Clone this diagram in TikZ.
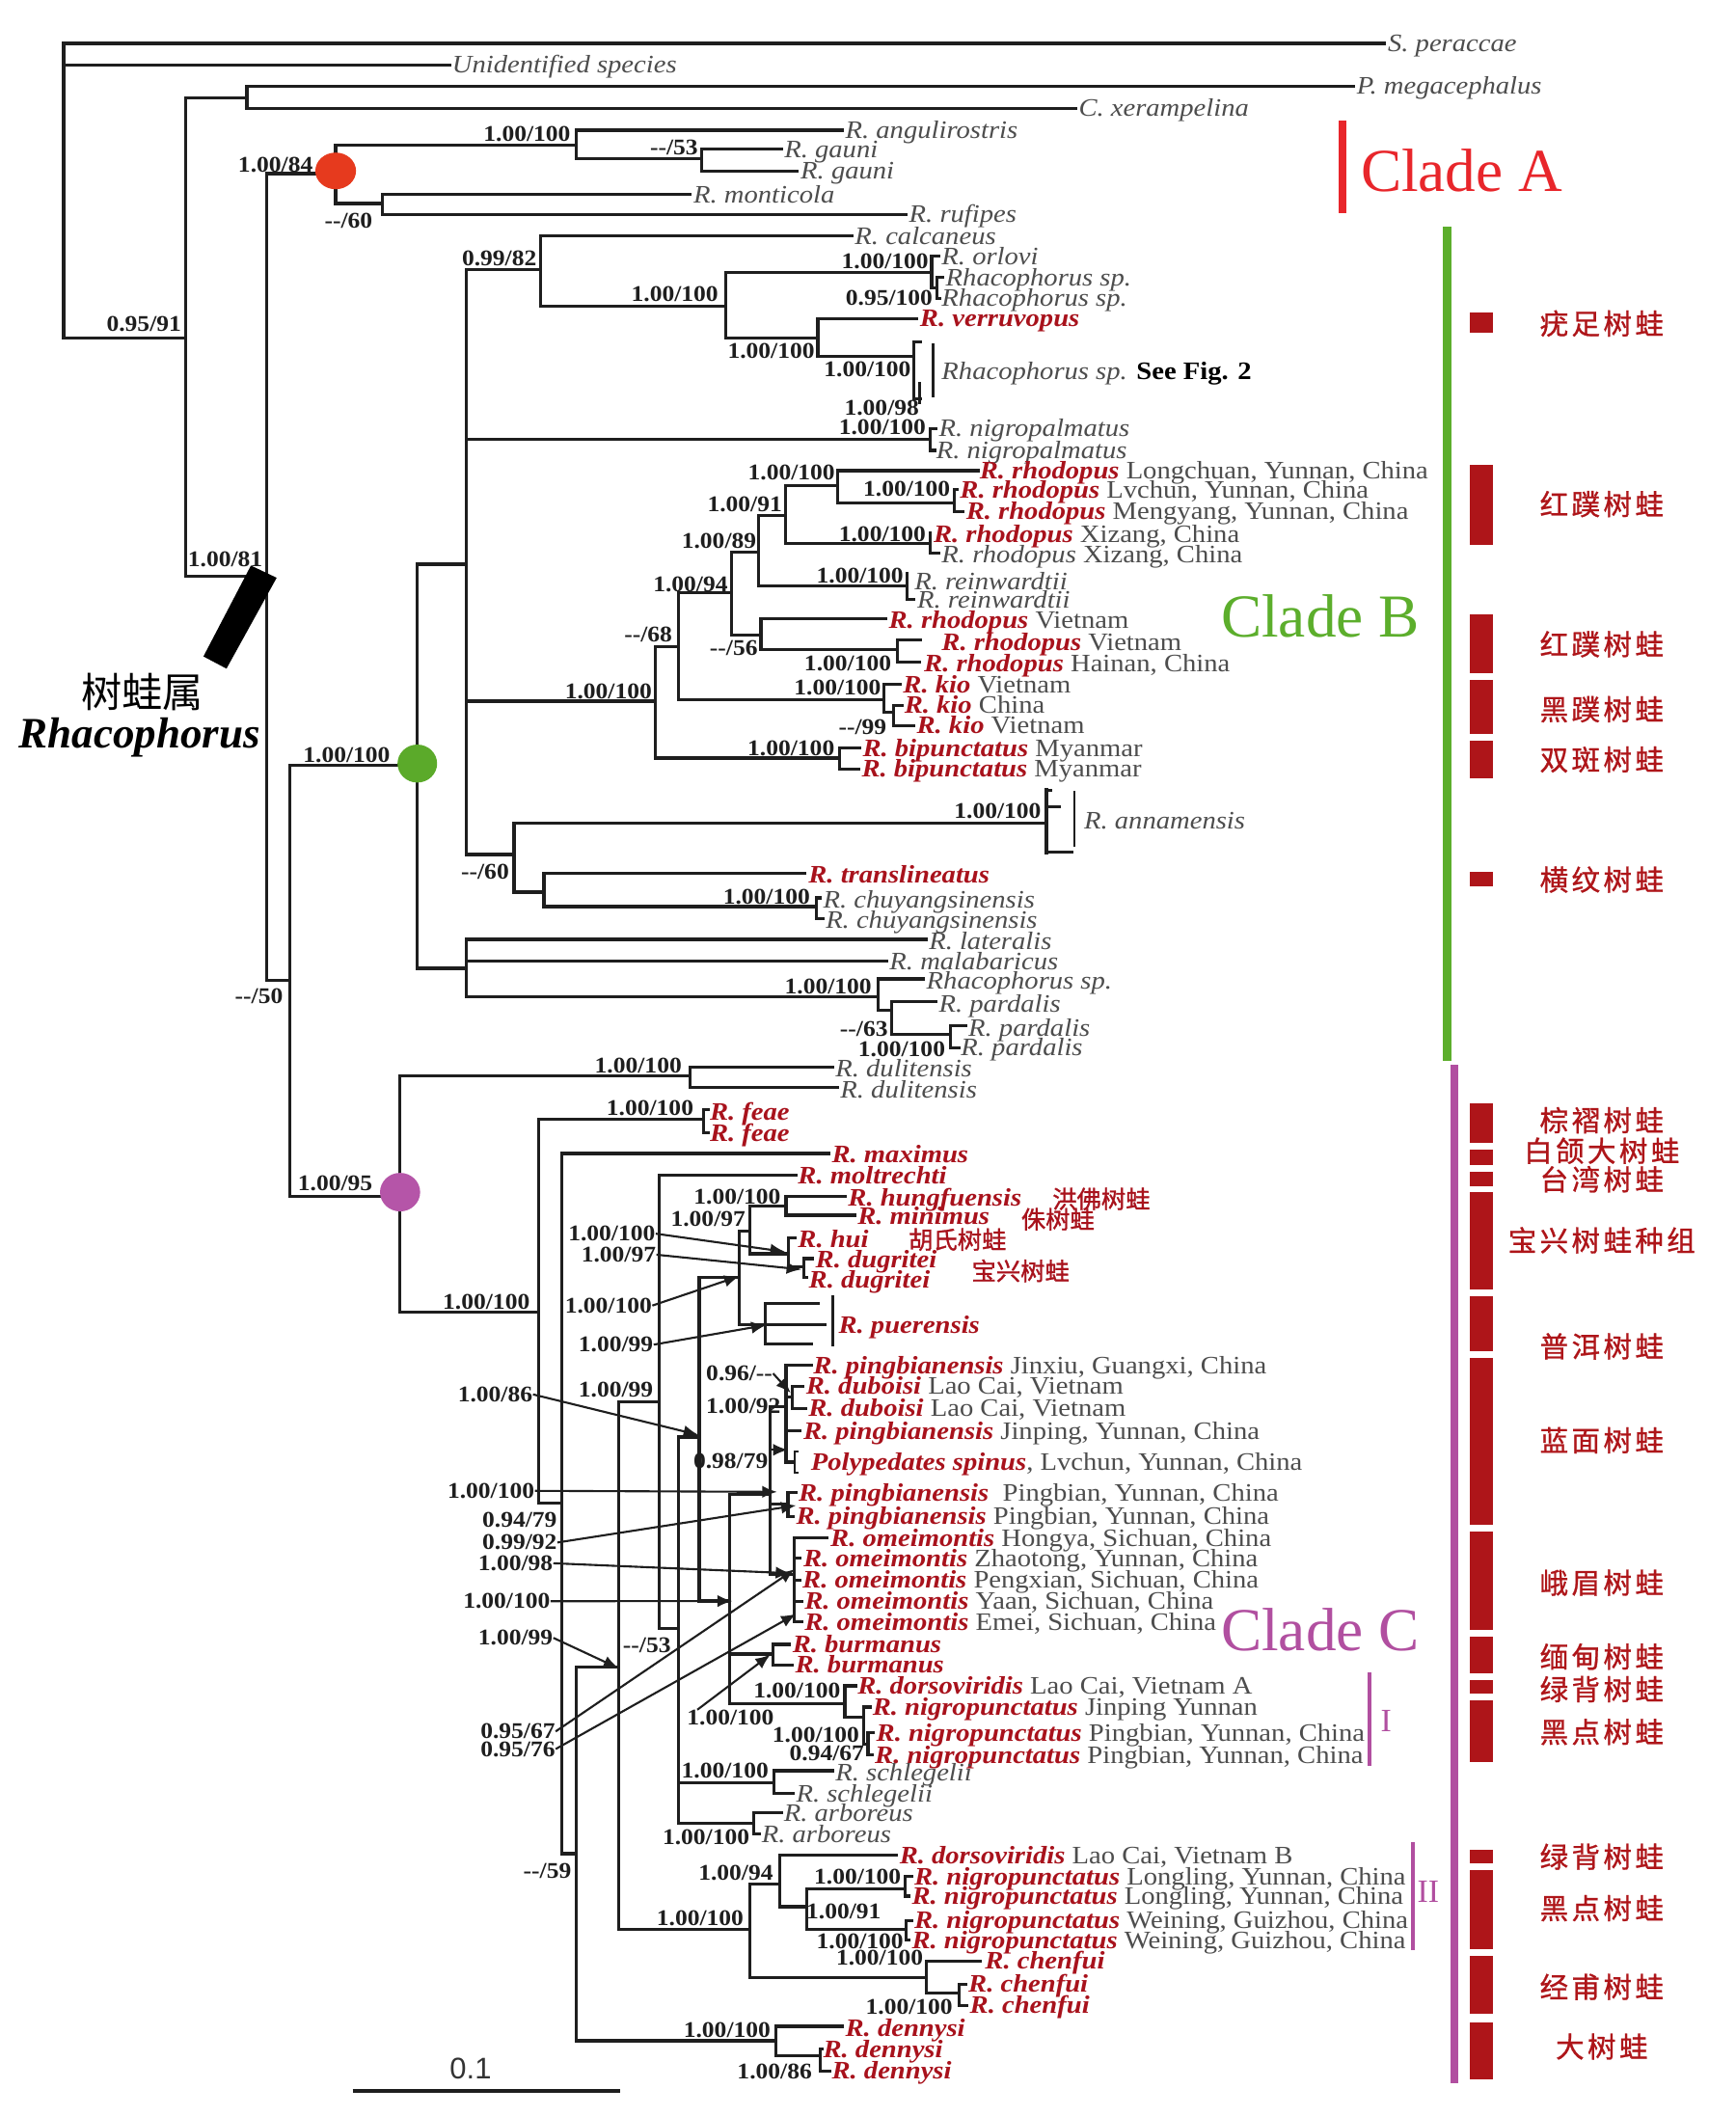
\documentclass[tikz,border=0pt]{standalone}
\usepackage{fontspec}
\setmainfont{Liberation Serif}
\newfontfamily\lab[FakeStretch=1.1]{Liberation Serif}
\newfontfamily\cjk{Noto Sans CJK SC}
\newfontfamily\cjkb[FakeBold=1.2]{Noto Sans CJK SC}
\newfontfamily\cjkr[FakeBold=0.9]{Noto Sans CJK SC}
\newfontfamily\sansf{Liberation Sans}
\usetikzlibrary{arrows.meta}
\definecolor{linec}{HTML}{1E1E1E}
\definecolor{labgray}{HTML}{4D4D4D}
\definecolor{labred}{HTML}{A8121C}
\definecolor{barred}{HTML}{AE1519}
\definecolor{cladeA}{HTML}{E8262B}
\definecolor{cladeB}{HTML}{5CAE2C}
\definecolor{cladeC}{HTML}{B14FA0}
\definecolor{dotA}{HTML}{E63A1E}
\definecolor{dotB}{HTML}{5BAA2A}
\definecolor{dotC}{HTML}{B555A8}
\newcommand{\gi}[1]{{\itshape\color{labgray}#1}}
\newcommand{\rb}[1]{{\bfseries\itshape\color{labred}#1}}
\newcommand{\gr}[1]{{\color{labgray}#1}}
\newcommand{\ks}{\kern1.2pt}
\begin{document}
\begin{tikzpicture}[x=0.5pt,y=-0.5pt,
  br/.style={line width=1.15pt, draw=linec, line cap=rect},
  thin/.style={line width=0.8pt, draw=linec},
  arr/.style={line width=0.75pt, draw=linec, -{Latex[length=5.5pt,width=4.5pt]}},
  tx/.style={anchor=base west, inner sep=0pt, yshift=-3pt, font=\lab\fontsize{9.25}{10}\selectfont},
  bs/.style={anchor=base east, inner sep=0pt, font=\lab\bfseries\fontsize{8.25}{9}\selectfont, text=linec},
  rc/.style={inner sep=0pt, font=\cjkr\fontsize{10.5}{12}\selectfont, text=barred},
  ic/.style={inner sep=0pt, font=\cjkb\fontsize{9}{10}\selectfont, text=labred},
  clade/.style={anchor=west, inner sep=0pt, font=\fontsize{22.5}{24}\selectfont}]
\fill[white] (0,0) rectangle (1280,1560.2);
\useasboundingbox (0,0) rectangle (1280,1560.2);

% ---------- outgroups ----------
\draw[br] (47,32) -- (47,249);
\draw[br] (47,32) -- (1021,32);
\node[tx] (tSper) at (1023,32) {\gi{S. peraccae}};
\draw[br] (47,48) -- (332,48);
\node[tx] (tUnid) at (333,48) {\gi{Unidentified species}};
\draw[br] (47,249) -- (137,249);
\node[bs] (b001) at (134,244) {0.95/91};
\draw[br] (137,72) -- (137,425);
\draw[br] (137,72) -- (182,72);
\draw[br] (182,63.5) -- (182,80);
\draw[br] (182,63.5) -- (998,63.5);
\node[tx] (tPmeg) at (1000,63.5) {\gi{P. megacephalus}};
\draw[br] (182,80) -- (793,80);
\node[tx] (tCxer) at (795,80) {\gi{C. xerampelina}};
\draw[br] (137,425) -- (196.5,425);
\node[bs] (b002) at (194,418) {1.00/81};
\draw[br] (196.5,128) -- (196.5,723);

% ---------- Clade A ----------
\draw[br] (196.5,128) -- (247.5,128);
\node[bs] (b003) at (231,127) {1.00/84};
\draw[br] (247.5,107) -- (247.5,150);
\draw[br] (247.5,107) -- (425,107);
\node[bs] (b004) at (421,104) {1.00/100};
\draw[br] (425,96) -- (425,117);
\draw[br] (425,96) -- (621,96);
\node[tx] (tAng) at (623,96) {\gi{R. angulirostris}};
\draw[br] (425,117) -- (517.5,117);
\node[bs] (b005) at (515,114) {{-}{-}/53};
\draw[br] (517.5,110) -- (517.5,126);
\draw[br] (517.5,110) -- (576,110);
\node[tx] (tGau1) at (578,110) {\gi{R. gauni}};
\draw[br] (517.5,126) -- (588,126);
\node[tx] (tGau2) at (590,126) {\gi{R. gauni}};
\draw[br] (247.5,150) -- (282,150);
\node[bs] (b006) at (275,168) {{-}{-}/60};
\draw[br] (282,143.5) -- (282,158);
\draw[br] (282,143.5) -- (509,143.5);
\node[tx] (tMon) at (511,143.5) {\gi{R. monticola}};
\draw[br] (282,158) -- (668,158);
\node[tx] (tRuf) at (670,158) {\gi{R. rufipes}};
\fill[dotA] (247.5,126) ellipse [x radius=15, y radius=13.5];

% ---------- Clade B ----------
\draw[br] (196.5,723) -- (213.5,723);
\node[bs] (b007) at (209,740) {{-}{-}/50};
\draw[br] (213.5,564) -- (213.5,882);
\draw[br] (213.5,564) -- (307.7,564);
\node[bs] (b008) at (288,562) {1.00/100};
\draw[br] (307.7,416) -- (307.7,714);
\draw[br] (307.7,416) -- (344,416);
\draw[br] (344,199) -- (344,630);
\draw[br] (344,199) -- (398.5,199);
\node[bs] (b009) at (396,196) {0.99/82};
\draw[br] (398.5,174) -- (398.5,226);
\draw[br] (398.5,174) -- (628,174);
\node[tx] (tCal) at (630,174) {\gi{R. calcaneus}};
\draw[br] (398.5,226) -- (535,226);
\node[bs] (b010) at (530,222) {1.00/100};
\draw[br] (535,200.7) -- (535,249);
\draw[br] (535,200.7) -- (687,200.7);
\node[bs] (b011) at (685,198) {1.00/100};
\draw[br] (687,189) -- (687,212);
\draw[br] (687,189) -- (692,189);
\node[tx] (tOrl) at (694,189) {\gi{R. orlovi}};
\draw[br] (687,212) -- (691,212);
\draw[br] (691,204.5) -- (691,220);
\draw[br] (691,204.5) -- (695,204.5);
\draw[br] (691,220) -- (693,220);
\node[tx] (tRsp1) at (697,204.5) {\gi{Rhacophorus sp.}};
\node[tx] (tRsp2) at (694,220) {\gi{Rhacophorus sp.}};
\node[bs] (b012) at (688,225) {0.95/100};
\draw[br] (535,249) -- (603,249);
\node[bs] (b013) at (601,264) {1.00/100};
\draw[br] (603,235) -- (603,263);
\draw[br] (603,235) -- (676,235);
\node[tx] (tVer) at (678,235) {\rb{R. verruvopus}};
\draw[br] (603,263) -- (674,263);
\node[bs] (b014) at (672,278) {1.00/100};
\draw[br] (674,252) -- (674,294);
\draw[br] (674,252) -- (679,252);
\draw[br] (674,294) -- (679,294);
\draw[br] (678,283) -- (678,297);
\draw[thin] (688,253) -- (688,293);
\node[tx] (tFig) at (694,274) {\gi{Rhacophorus sp.} {\bfseries\color{black}See Fig. 2}};
\node[bs] (b015) at (678,306) {1.00/98};
\draw[br] (344,324) -- (686,324);
\node[bs] (b016) at (683,320.5) {1.00/100};
\draw[br] (686,316) -- (686,332);
\draw[br] (686,316) -- (690,316);
\draw[br] (686,332) -- (689,332);
\node[tx] (tNgp1) at (692,316) {\gi{R. nigropalmatus}};
\node[tx] (tNgp2) at (690,332) {\gi{R. nigropalmatus}};

\draw[br] (344,517) -- (483,517);
\node[bs] (b017) at (481,515) {1.00/100};
\draw[br] (483,476.7) -- (483,559);
\draw[br] (483,476.7) -- (500,476.7);
\node[bs] (b018) at (496,473) {{-}{-}/68};
\draw[br] (500,437) -- (500,516);
\draw[br] (500,437) -- (539.5,437);
\node[bs] (b019) at (537,436) {1.00/94};
\draw[br] (539.5,407) -- (539.5,468);
\draw[br] (539.5,407) -- (559.5,407);
\node[bs] (b020) at (558,404) {1.00/89};
\draw[br] (559.5,380) -- (559.5,432);
\draw[br] (559.5,380) -- (579.4,380);
\node[bs] (b021) at (577,377) {1.00/91};
\draw[br] (579.4,358) -- (579.4,400.5);
\draw[br] (579.4,358) -- (617.5,358);
\node[bs] (b022) at (616,354) {1.00/100};
\draw[br] (617.5,347) -- (617.5,371);
\draw[br] (617.5,347) -- (721,347);
\node[tx] (tRh1) at (722,347) {\rb{R. rhodopus} \gr{Longchuan, Yunnan, China}};
\draw[br] (617.5,371) -- (703.5,371);
\node[bs] (b023) at (701,366) {1.00/100};
\draw[br] (703.5,361) -- (703.5,377);
\draw[br] (703.5,361) -- (706,361);
\node[tx] (tRh2) at (707.5,361) {\rb{R. rhodopus} \gr{Lvchun, Yunnan, China}};
\draw[br] (703.5,377) -- (710,377);
\node[tx] (tRh3) at (712,377) {\rb{R. rhodopus} \gr{Mengyang, Yunnan, China}};
\draw[br] (579.4,400.5) -- (685.7,400.5);
\node[bs] (b024) at (683,399) {1.00/100};
\draw[br] (685.7,393) -- (685.7,408);
\node[tx] (tRh4) at (688,394) {\rb{R. rhodopus} \gr{Xizang, China}};
\draw[br] (685.7,408) -- (692,408);
\node[tx] (tRh5) at (694,409) {\gi{R. rhodopus} \gr{Xizang, China}};
\draw[br] (559.5,432) -- (669,432);
\node[bs] (b025) at (666.5,430) {1.00/100};
\draw[br] (669,423) -- (669,442);
\node[tx] (tRei1) at (674,428.5) {\gi{R. reinwardtii}};
\draw[br] (669,442) -- (674,442);
\node[tx] (tRei2) at (676,442) {\gi{R. reinwardtii}};
\draw[br] (539.5,468) -- (561,468);
\node[bs] (b026) at (559,483) {{-}{-}/56};
\draw[br] (561,456) -- (561,479);
\draw[br] (561,456) -- (653,456);
\node[tx] (tRh6) at (655,457) {\rb{R. rhodopus} \gr{Vietnam}};
\draw[br] (561,479) -- (661.8,479);
\draw[br] (661.8,471.6) -- (661.8,488);
\draw[br] (661.8,471.6) -- (679,471.6);
\node[tx] (tRh7) at (694,473.5) {\rb{R. rhodopus} \gr{Vietnam}};
\draw[br] (661.8,488) -- (678,488);
\node[tx] (tRh8) at (681,489) {\rb{R. rhodopus} \gr{Hainan, China}};
\node[bs] (b027) at (657.5,494.5) {1.00/100};
\draw[br] (500,516) -- (652,516);
\node[bs] (b028) at (650,512) {1.00/100};
\draw[br] (652,504.6) -- (652,525);
\draw[br] (652,504.6) -- (664,504.6);
\node[tx] (tKio1) at (665.5,505) {\rb{R. kio} \gr{Vietnam}};
\draw[br] (652,525) -- (659,525);
\draw[br] (659,520) -- (659,535);
\draw[br] (659,520) -- (665,520);
\node[tx] (tKio2) at (666.5,520) {\rb{R. kio} \gr{China}};
\draw[br] (659,535) -- (674,535);
\node[tx] (tKio3) at (675.6,535) {\rb{R. kio} \gr{Vietnam}};
\node[bs] (b029) at (654,541.5) {{-}{-}/99};
\draw[br] (483,559) -- (619,559);
\node[bs] (b030) at (615.7,557) {1.00/100};
\draw[br] (619,551.6) -- (619,567);
\draw[br] (619,551.6) -- (634,551.6);
\node[tx] (tBip1) at (635.7,551.6) {\rb{R. bipunctatus} \gr{Myanmar}};
\draw[br] (619,567) -- (633,567);
\node[tx] (tBip2) at (635,567) {\rb{R. bipunctatus} \gr{Myanmar}};

\draw[br] (344,630) -- (379,630);
\node[bs] (b031) at (375.7,648) {{-}{-}/60};
\draw[br] (379,607) -- (379,657.8);
\draw[br] (379,607) -- (771.5,607);
\node[bs] (b032) at (768,603.7) {1.00/100};
\draw[br] (771.5,582) -- (771.5,629);
\draw[br] (771.5,583) -- (775,583);
\draw[br] (771.5,595) -- (780.8,595);
\draw[br] (771.5,628) -- (790,628);
\draw[thin] (792.4,583.4) -- (792.4,624);
\node[tx] (tAnn) at (799,605) {\gi{R. annamensis}};
\draw[br] (379,657.8) -- (401,657.8);
\draw[br] (401,644) -- (401,668.5);
\draw[br] (401,644) -- (593,644);
\node[tx] (tTra) at (595.8,645) {\rb{R. translineatus}};
\draw[br] (401,668.5) -- (602,668.5);
\node[bs] (b033) at (597.6,667) {1.00/100};
\draw[br] (602,662) -- (602,677.5);
\draw[br] (602,662) -- (605,662);
\node[tx] (tChu1) at (606.6,663.4) {\gi{R. chuyangsinensis}};
\draw[br] (602,677.5) -- (607,677.5);
\node[tx] (tChu2) at (608.5,678.6) {\gi{R. chuyangsinensis}};

\draw[br] (307.7,714) -- (344,714);
\draw[br] (344,692.6) -- (344,735);
\draw[br] (344,692.6) -- (682.8,692.6);
\node[tx] (tLat) at (684.6,694) {\gi{R. lateralis}};
\draw[br] (344,708.8) -- (653.8,708.8);
\node[tx] (tMal) at (655.6,709) {\gi{R. malabaricus}};
\draw[br] (344,735) -- (647.3,735);
\node[bs] (b034) at (643,733) {1.00/100};
\draw[br] (647.3,721.8) -- (647.3,744.7);
\draw[br] (647.3,721.8) -- (681,721.8);
\node[tx] (tRsp3) at (682.8,723.5) {\gi{Rhacophorus sp.}};
\draw[br] (647.3,744.7) -- (657.4,744.7);
\draw[br] (657.4,738.3) -- (657.4,762.5);
\draw[br] (657.4,738.3) -- (690,738.3);
\node[tx] (tPar1) at (691.9,740) {\gi{R. pardalis}};
\draw[br] (657.4,762.5) -- (701,762.5);
\node[bs] (b035) at (655,764) {{-}{-}/63};
\draw[br] (701,756) -- (701,772.6);
\draw[br] (701,756) -- (712,756);
\node[tx] (tPar2) at (713.7,758) {\gi{R. pardalis}};
\draw[br] (701,772.6) -- (707,772.6);
\node[tx] (tPar3) at (708.2,772.6) {\gi{R. pardalis}};
\node[bs] (b036) at (697.3,779) {1.00/100};
\fill[dotB] (307.7,563) ellipse [x radius=14.6, y radius=14];

% ---------- Clade C ----------
\draw[br] (213.5,882) -- (295,882);
\node[bs] (b037) at (275,878) {1.00/95};
\draw[br] (295,793.4) -- (295,967.4);
\draw[br] (295,793.4) -- (509,793.4);
\node[bs] (b038) at (503,791) {1.00/100};
\draw[br] (509,787) -- (509,802);
\draw[br] (509,787) -- (614,787);
\node[tx] (tDul1) at (615.7,788) {\gi{R. dulitensis}};
\draw[br] (509,802) -- (617.5,802);
\node[tx] (tDul2) at (619.3,803.5) {\gi{R. dulitensis}};
\draw[br] (295,967.4) -- (397,967.4);
\node[bs] (b039) at (391,965) {1.00/100};
\draw[br] (397,825) -- (397,1108);
\draw[br] (397,825) -- (518.5,825);
\node[bs] (b040) at (511.7,822.6) {1.00/100};
\draw[br] (518.5,818) -- (518.5,835);
\draw[br] (518.5,818) -- (522,818);
\node[tx] (tFea1) at (523,820) {\rb{R. feae}};
\draw[br] (518.5,835) -- (522,835);
\node[tx] (tFea2) at (523,835.3) {\rb{R. feae}};
\draw[br] (397,1108) -- (414,1108);
\draw[br] (414,850.5) -- (414,1366.7);
\draw[br] (414,850.5) -- (611,850.5);
\node[tx] (tMax) at (613,851) {\rb{R. maximus}};
\draw[br] (414,1366.7) -- (425,1366.7);
\node[bs] (b041) at (421.6,1385) {{-}{-}/59};
\draw[br] (425,1229) -- (425,1504.7);
\draw[br] (425,1229) -- (456,1229);
\draw[br] (456,1033.5) -- (456,1422.7);
\draw[br] (456,1033.5) -- (486,1033.5);
\node[bs] (b042) at (482,1030) {1.00/99};
\draw[br] (486,866.5) -- (486,1200.6);
\draw[br] (486,866.5) -- (586.6,866.5);
\node[tx] (tMol) at (588,867) {\rb{R. moltrechti}};
\draw[br] (486,1200.6) -- (500,1200.6);
\node[bs] (b043) at (495,1218.4) {{-}{-}/53};
\draw[br] (500,1059.6) -- (500,1344.6);
\draw[br] (500,1059.6) -- (515.5,1059.6);
\draw[br] (515.5,942) -- (515.5,1180.5);
\draw[br] (515.5,942) -- (545,942);
\draw[br] (545,908) -- (545,976.7);
\draw[br] (545,908) -- (553,908);
\draw[br] (553,889) -- (553,924.5);
\draw[br] (553,889) -- (579.5,889);
\node[bs] (b044) at (576,888) {1.00/100};
\node[bs] (b045) at (550,904) {1.00/97};
\draw[br] (579.5,882) -- (579.5,896);
\draw[br] (579.5,882) -- (623.4,882);
\node[tx] (tHun) at (625,883) {\rb{R. hungfuensis}};
\draw[br] (579.5,896) -- (630.5,896);
\node[tx] (tMin) at (632,897) {\rb{R. minimus}};
\draw[br] (553,924.5) -- (581.4,924.5);
\draw[br] (581.4,912.7) -- (581.4,934);
\draw[br] (581.4,912.7) -- (586,912.7);
\node[tx] (tHui) at (588,914) {\rb{R. hui}};
\draw[br] (581.4,934) -- (592.6,934);
\draw[br] (592.6,928) -- (592.6,942);
\draw[br] (592.6,928) -- (599,928);
\node[tx] (tDug1) at (601,929) {\rb{R. dugritei}};
\draw[br] (592.6,942) -- (595,942);
\node[tx] (tDug2) at (596,944) {\rb{R. dugritei}};
\draw[br] (545,976.7) -- (564,976.7);
\draw[br] (564,961) -- (564,991);
\draw[br] (564,961) -- (603,961);
\draw[br] (564,976.7) -- (608,976.7);
\draw[br] (564,991) -- (598.5,991);
\draw[thin] (614,955) -- (614,993);
\node[tx] (tPue) at (618,977) {\rb{R. puerensis}};

% blue-faced group
\draw[br] (515.5,1180.5) -- (538,1180.5);
\draw[br] (538,1102) -- (538,1256);
\draw[br] (538,1102) -- (568,1102);
\draw[br] (568,1037) -- (568,1161);
\draw[br] (568,1037) -- (579.5,1037);
\draw[br] (579.5,1006.8) -- (579.5,1078);
\draw[br] (579.5,1006.8) -- (598,1006.8);
\node[tx] (tPin1) at (599.4,1007) {\rb{R. pingbianensis} \gr{Jinxiu, Guangxi, China}};
\draw[br] (579.5,1030) -- (584,1030);
\draw[br] (584,1022) -- (584,1038.5);
\draw[br] (584,1022) -- (592,1022);
\node[tx] (tDub1) at (594,1022) {\rb{R. duboisi} \gr{Lao Cai, Vietnam}};
\draw[br] (584,1038.5) -- (594,1038.5);
\node[tx] (tDub2) at (595.8,1038.5) {\rb{R. duboisi} \gr{Lao Cai, Vietnam}};
\draw[br] (579.5,1055) -- (590,1055);
\node[tx] (tPin2) at (592,1055) {\rb{R. pingbianensis} \gr{Jinping, Yunnan, China}};
\draw[br] (579.5,1078) -- (584,1078);
\draw[thin] (589,1070) -- (586,1070) -- (586,1086) -- (589,1086);
\node[tx] (tPol) at (597.6,1078) {\rb{Polypedates spinus}\gr{, Lvchun, Yunnan, China}};
\draw[br] (568,1109) -- (581,1109);
\draw[br] (581,1100.7) -- (581,1118);
\draw[br] (581,1100.7) -- (587,1100.7);
\node[tx] (tPin3) at (588.5,1100.7) {\rb{R. pingbianensis}\ \ \gr{Pingbian, Yunnan, China}};
\draw[br] (581,1118) -- (585,1118);
\node[tx] (tPin4) at (586.7,1118) {\rb{R. pingbianensis} \gr{Pingbian, Yunnan, China}};
\draw[br] (568,1161) -- (585.5,1161);
\draw[br] (585.5,1133.8) -- (585.5,1196);
\draw[br] (585.5,1133.8) -- (610,1133.8);
\node[tx] (tOme1) at (612,1134) {\rb{R. omeimontis} \gr{Hongya, Sichuan, China}};
\draw[br] (585.5,1149) -- (590,1149);
\node[tx] (tOme2) at (592,1149) {\rb{R. omeimontis} \gr{Zhaotong, Yunnan, China}};
\draw[br] (585.5,1165) -- (590,1165);
\node[tx] (tOme3) at (591.4,1165) {\rb{R. omeimontis} \gr{Pengxian, Sichuan, China}};
\draw[br] (585.5,1180.6) -- (591,1180.6);
\node[tx] (tOme4) at (592.9,1180.6) {\rb{R. omeimontis} \gr{Yaan, Sichuan, China}};
\draw[br] (585.5,1196) -- (591,1196);
\node[tx] (tOme5) at (592.9,1196) {\rb{R. omeimontis} \gr{Emei, Sichuan, China}};
\node[bs] (b046) at (570,1018) {0.96/{-}{-}};
\node[bs] (b047) at (576,1042) {1.00/92};
\node[bs] (b048) at (566.7,1083) {0.98/79};
\draw[br] (538,1219.5) -- (570,1219.5);
\draw[br] (570,1212.4) -- (570,1227.5);
\draw[br] (570,1212.4) -- (582,1212.4);
\node[tx] (tBur1) at (584,1212.4) {\rb{R. burmanus}};
\draw[br] (570,1227.5) -- (584,1227.5);
\node[tx] (tBur2) at (586,1227.5) {\rb{R. burmanus}};
\draw[br] (538,1256) -- (623,1256);
\node[bs] (b049) at (620,1252) {1.00/100};
\draw[br] (623,1243) -- (623,1266);
\draw[br] (623,1243) -- (631,1243);
\node[tx] (tDor1) at (632,1243) {\rb{R. dorsoviridis} \gr{Lao Cai, Vietnam A}};
\draw[br] (623,1266) -- (637,1266);
\draw[br] (637,1258.7) -- (637,1286);
\draw[br] (637,1258.7) -- (642,1258.7);
\node[tx] (tNgr1) at (643,1258.7) {\rb{R. nigropunctatus} \gr{Jinping Yunnan}};
\draw[br] (637,1286) -- (640,1286);
\draw[br] (640,1277.7) -- (640,1294);
\draw[br] (640,1277.7) -- (644,1277.7);
\node[tx] (tNgr2) at (645.8,1277.7) {\rb{R. nigropunctatus} \gr{Pingbian, Yunnan, China}};
\draw[br] (640,1294) -- (643,1294);
\node[tx] (tNgr3) at (644.7,1294) {\rb{R. nigropunctatus} \gr{Pingbian, Yunnan, China}};
\node[bs] (b050) at (634,1284.8) {1.00/100};
\node[bs] (b051) at (637.5,1297.8) {0.94/67};
\draw[br] (500,1314.7) -- (570.4,1314.7);
\node[bs] (b052) at (567,1311) {1.00/100};
\draw[br] (570.4,1305.6) -- (570.4,1322.5);
\draw[br] (570.4,1305.6) -- (614,1305.6);
\node[tx] (tSch1) at (615.7,1307) {\gi{R. schlegelii}};
\draw[br] (570.4,1322.5) -- (585,1322.5);
\node[tx] (tSch2) at (586.7,1322.5) {\gi{R. schlegelii}};
\draw[br] (500,1344.6) -- (556,1344.6);
\node[bs] (b053) at (553,1360) {1.00/100};
\draw[br] (556,1336.8) -- (556,1352.4);
\draw[br] (556,1336.8) -- (576,1336.8);
\node[tx] (tArb1) at (577.6,1336.8) {\gi{R. arboreus}};
\draw[br] (556,1352.4) -- (560,1352.4);
\node[tx] (tArb2) at (561.3,1352.4) {\gi{R. arboreus}};

% clade II
\draw[br] (456,1422.7) -- (553,1422.7);
\node[bs] (b054) at (548.6,1420) {1.00/100};
\draw[br] (553,1389) -- (553,1458);
\draw[br] (553,1389) -- (574.7,1389);
\node[bs] (b055) at (570.4,1386) {1.00/94};
\draw[br] (574.7,1368) -- (574.7,1405.8);
\draw[br] (574.7,1368) -- (661,1368);
\node[tx] (tDor2) at (662.9,1368) {\rb{R. dorsoviridis} \gr{Lao Cai, Vietnam B}};
\draw[br] (574.7,1405.8) -- (595,1405.8);
\draw[br] (595,1392.8) -- (595,1422.7);
\draw[br] (595,1392.8) -- (667.6,1392.8);
\node[bs] (b056) at (664.7,1389) {1.00/100};
\draw[br] (667.6,1383.7) -- (667.6,1398);
\draw[br] (667.6,1383.7) -- (672,1383.7);
\node[tx] (tNgr4) at (673.8,1383.7) {\rb{R. nigropunctatus} \gr{Longling, Yunnan, China}};
\draw[br] (667.6,1398) -- (670,1398);
\node[tx] (tNgr5) at (672,1398) {\rb{R. nigropunctatus} \gr{Longling, Yunnan, China}};
\draw[br] (595,1422.7) -- (668.3,1422.7);
\node[bs] (b057) at (650,1415) {1.00/91};
\draw[br] (668.3,1416) -- (668.3,1430.5);
\draw[br] (668.3,1416) -- (672,1416);
\node[tx] (tNgr6) at (673.8,1416) {\rb{R. nigropunctatus} \gr{Weining, Guizhou, China}};
\draw[br] (668.3,1430.5) -- (670,1430.5);
\node[tx] (tNgr7) at (672,1430.5) {\rb{R. nigropunctatus} \gr{Weining, Guizhou, China}};
\node[bs] (b058) at (666.5,1437) {1.00/100};
\draw[br] (553,1458) -- (683,1458);
\node[bs] (b059) at (681,1449) {1.00/100};
\draw[br] (683,1446) -- (683,1469.6);
\draw[br] (683,1446) -- (722.7,1446);
\node[tx] (tChe1) at (726,1446) {\rb{R. chenfui}};
\draw[br] (683,1469.6) -- (707,1469.6);
\draw[br] (707,1463) -- (707,1478.7);
\draw[br] (707,1463) -- (712,1463);
\node[tx] (tChe2) at (713.7,1463) {\rb{R. chenfui}};
\draw[br] (707,1478.7) -- (713,1478.7);
\node[tx] (tChe3) at (714.8,1478.7) {\rb{R. chenfui}};
\node[bs] (b060) at (702.8,1485) {1.00/100};
\draw[br] (425,1504.7) -- (572,1504.7);
\node[bs] (b061) at (568.5,1502) {1.00/100};
\draw[br] (572,1494) -- (572,1516);
\draw[br] (572,1494) -- (621,1494);
\node[tx] (tDen1) at (623,1495.6) {\rb{R. dennysi}};
\draw[br] (572,1516) -- (604.8,1516);
\draw[br] (604.8,1511) -- (604.8,1527);
\draw[br] (604.8,1511) -- (606,1511);
\node[tx] (tDen2) at (606.6,1511) {\rb{R. dennysi}};
\draw[br] (604.8,1527) -- (612,1527);
\node[tx] (tDen3) at (613,1527) {\rb{R. dennysi}};
\node[bs] (b062) at (599,1533) {1.00/86};
\fill[dotC] (295,879) ellipse [x radius=14.8, y radius=14.2];

% ---------- arrow labels ----------
\node[bs] (aA) at (483.5,915) {1.00/100};
\node[bs] (aB) at (484,930.5) {1.00/97};
\node[bs] (aC) at (481,968) {1.00/100};
\node[bs] (aD) at (482,996.8) {1.00/99};
\node[bs] (aE) at (393,1033.5) {1.00/86};
\node[bs] (aI) at (394.4,1104.6) {1.00/100};
\node[bs] (aJ) at (411,1126) {0.94/79};
\node[bs] (aK) at (411,1142.7) {0.99/92};
\node[bs] (aL) at (408,1158) {1.00/98};
\node[bs] (aM) at (406,1186) {1.00/100};
\node[bs] (aN) at (408,1213) {1.00/99};
\node[bs] (aO) at (409.7,1282) {0.95/67};
\node[bs] (aP) at (409.7,1295) {0.95/76};
\node[bs] (aQ) at (571,1272) {1.00/100};
\coordinate (pA) at (579,923);
\coordinate (pB) at (591,936);
\coordinate (pC) at (545,941);
\coordinate (pD) at (565,977);
\coordinate (pE) at (515,1058);
\coordinate (pF) at (583,1027);
\coordinate (pH) at (581,1069);
\coordinate (pI) at (573,1100);
\coordinate (pK) at (587,1110);
\coordinate (pL) at (583,1160);
\coordinate (pM) at (540,1180.5);
\coordinate (pN) at (456,1230);
\coordinate (pO) at (586,1157);
\coordinate (pP) at (587,1190);
\coordinate (pQ) at (568,1220);
\draw[arr] (aA.east) -- (pA);
\draw[arr] (aB.east) -- (pB);
\draw[arr] (aC.east) -- (pC);
\draw[arr] (aD.east) -- (pD);
\draw[arr] (aE.east) -- (pE);
\draw[arr] (b046.east) -- (pF);
\draw[arr] (568,1069) -- (pH);
\draw[arr] (aI.east) -- (pI);
\draw[arr] (aK.east) -- (pK);
\draw[arr] (aL.east) -- (pL);
\draw[arr] (aM.east) -- (pM);
\draw[arr] (aN.east) -- (pN);
\draw[arr] (aO.east) -- (pO);
\draw[arr] (aP.east) -- (pP);
\draw[arr] ([xshift=4pt]aQ.north west) -- (pQ);

% ---------- inner Chinese labels ----------
\node[ic] (c1) at (812,884) {洪佛树蛙};
\node[ic] (c2) at (780,899) {侏树蛙};
\node[ic] (c3) at (706,914) {胡氏树蛙};
\node[ic] (c4) at (752.5,937) {宝兴树蛙};

% ---------- genus label ----------
\fill[black] (185,417) -- (204,426) -- (167,493) -- (150,484) -- cycle;
\node[inner sep=0pt, font=\cjk\fontsize{15}{16}\selectfont] (gcn) at (105,510) {树蛙属};
\node[inner sep=0pt, font=\bfseries\itshape\fontsize{16}{18}\selectfont] (glat) at (103,544) {Rhacophorus};

% ---------- clade labels and bars ----------
\fill[cladeA] (987,89) rectangle (993,157);
\node[clade, text=cladeA] (cA) at (1003,126) {Clade A};
\node[clade, text=cladeB] (cB) at (900,454) {Clade B};
\node[clade, text=cladeC] (cC) at (900,1202) {Clade C};
\fill[cladeB] (1064,167) rectangle (1070,782);
\fill[cladeC] (1069.5,785) rectangle (1075.5,1536);
\fill[cladeC] (1008.5,1233) rectangle (1011.5,1302);
\node[inner sep=0pt, font=\fontsize{12}{13}\selectfont, text=cladeC] (cI) at (1022,1269) {I};
\fill[cladeC] (1040.5,1358) rectangle (1043.5,1438);
\node[inner sep=0pt, font=\fontsize{12}{13}\selectfont, text=cladeC] (cII) at (1053,1395) {II};

% red bars
\fill[barred] (1084,230.5) rectangle (1101,245.5);
\fill[barred] (1084,343) rectangle (1101,401.6);
\fill[barred] (1084,453) rectangle (1101,496.4);
\fill[barred] (1084,501.4) rectangle (1101,541.3);
\fill[barred] (1084,546.3) rectangle (1101,573.7);
\fill[barred] (1084,642.6) rectangle (1101,653.6);
\fill[barred] (1084,813.5) rectangle (1101,842.7);
\fill[barred] (1084,847.8) rectangle (1101,859);
\fill[barred] (1084,864) rectangle (1101,875);
\fill[barred] (1084,879) rectangle (1101,951);
\fill[barred] (1084,956) rectangle (1101,996);
\fill[barred] (1084,1001) rectangle (1101,1124);
\fill[barred] (1084,1129) rectangle (1101,1202);
\fill[barred] (1084,1207) rectangle (1101,1233.6);
\fill[barred] (1084,1238.7) rectangle (1101,1249);
\fill[barred] (1084,1254) rectangle (1101,1299);
\fill[barred] (1084,1364) rectangle (1101,1374);
\fill[barred] (1084,1379) rectangle (1101,1437);
\fill[barred] (1084,1442) rectangle (1101,1485);
\fill[barred] (1084,1491) rectangle (1101,1533);

% right Chinese names
\node[rc] (r01) at (1181,238.5) {疣\ks 足\ks 树\ks 蛙};
\node[rc] (r02) at (1181,371.7) {红\ks 蹼\ks 树\ks 蛙};
\node[rc] (r03) at (1181,475) {红\ks 蹼\ks 树\ks 蛙};
\node[rc] (r04) at (1181,523) {黑\ks 蹼\ks 树\ks 蛙};
\node[rc] (r05) at (1181,560) {双\ks 斑\ks 树\ks 蛙};
\node[rc] (r06) at (1181,648.6) {横\ks 纹\ks 树\ks 蛙};
\node[rc] (r07) at (1181,826) {棕\ks 褶\ks 树\ks 蛙};
\node[rc] (r08) at (1181,848.5) {白\ks 颌\ks 大\ks 树\ks 蛙};
\node[rc] (r09) at (1181,869.5) {台\ks 湾\ks 树\ks 蛙};
\node[rc] (r10) at (1181,914.5) {宝\ks 兴\ks 树\ks 蛙\ks 种\ks 组};
\node[rc] (r11) at (1181,992.7) {普\ks 洱\ks 树\ks 蛙};
\node[rc] (r12) at (1181,1062) {蓝\ks 面\ks 树\ks 蛙};
\node[rc] (r13) at (1181,1167) {峨\ks 眉\ks 树\ks 蛙};
\node[rc] (r14) at (1181,1221.5) {缅\ks 甸\ks 树\ks 蛙};
\node[rc] (r15) at (1181,1245.5) {绿\ks 背\ks 树\ks 蛙};
\node[rc] (r16) at (1181,1277) {黑\ks 点\ks 树\ks 蛙};
\node[rc] (r17) at (1181,1369) {绿\ks 背\ks 树\ks 蛙};
\node[rc] (r18) at (1181,1407) {黑\ks 点\ks 树\ks 蛙};
\node[rc] (r19) at (1181,1465) {经\ks 甫\ks 树\ks 蛙};
\node[rc] (r20) at (1181,1509) {大\ks 树\ks 蛙};

% ---------- scale bar ----------
\draw[line width=1.2pt, draw=linec] (260,1541.7) -- (457,1541.7);
\node[inner sep=0pt, font=\sansf\fontsize{11}{12}\selectfont, text=black!80] (scl) at (347,1525) {0.1};
\end{tikzpicture}
\end{document}
